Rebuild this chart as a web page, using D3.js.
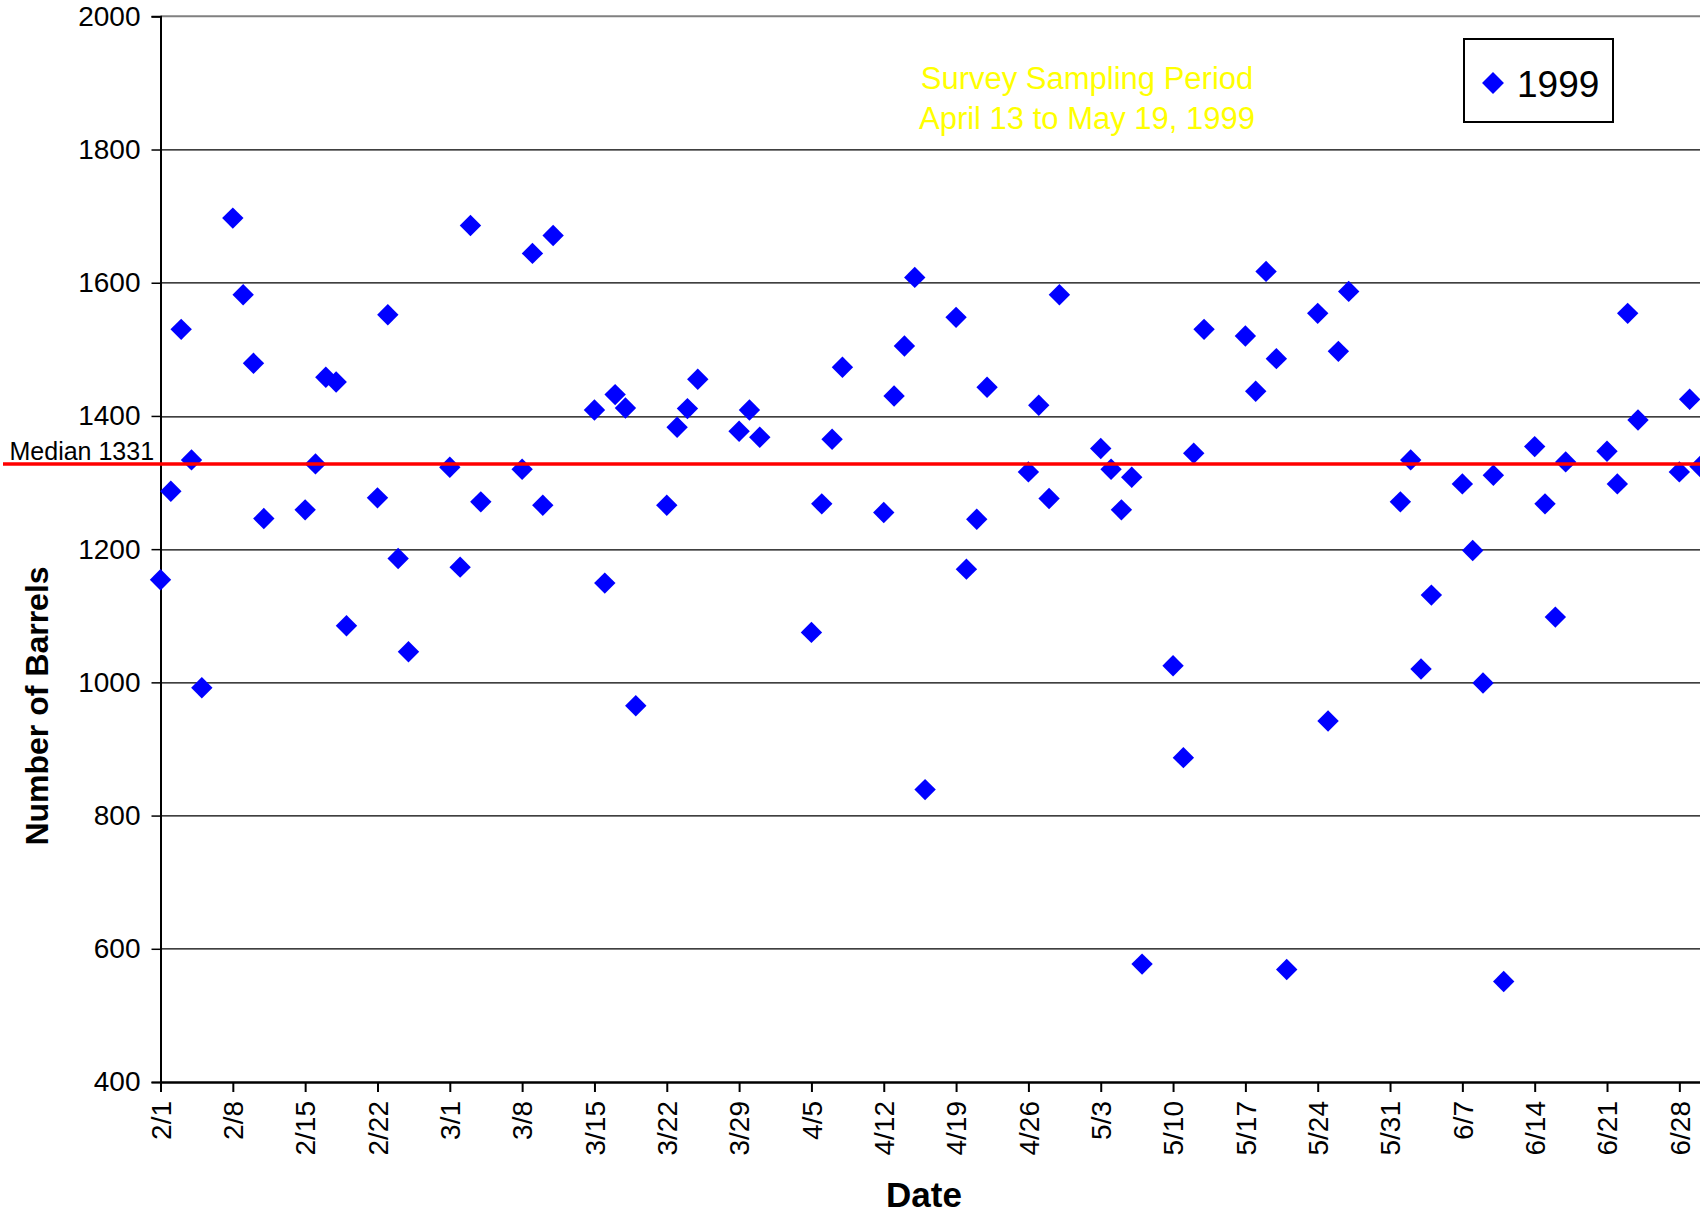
<!DOCTYPE html>
<html>
<head>
<meta charset="utf-8">
<script src="https://cdn.jsdelivr.net/npm/d3@7"></script>
<style>
  body { margin: 0; background: #fff; }
  text { font-family: "Liberation Sans", Arial, sans-serif; }
</style>
</head>
<body>
<div id="chart"></div>
<script>
const dates = [
    "2/1","2/2","2/3","2/4","2/5","2/8","2/9","2/10","2/11",
    "2/15","2/16","2/17","2/18","2/19","2/22","2/23","2/24","2/25",
    "3/1","3/2","3/3","3/4","3/8","3/9","3/10","3/11",
    "3/15","3/16","3/17","3/18","3/19","3/22","3/23","3/24","3/25",
    "3/29","3/30","3/31","4/5","4/6","4/7","4/8",
    "4/12","4/13","4/14","4/15","4/16","4/19","4/20","4/21","4/22",
    "4/26","4/27","4/28","4/29","5/3","5/4","5/5","5/6","5/7",
    "5/10","5/11","5/12","5/13","5/17","5/18","5/19","5/20","5/21",
    "5/24","5/25","5/26","5/27","6/1","6/2","6/3","6/4",
    "6/7","6/8","6/9","6/10","6/11","6/14","6/15","6/16","6/17",
    "6/21","6/22","6/23","6/24","6/28","6/29","6/30"
];
const barrels = [
    1154, 1287, 1530, 1334, 992, 1697, 1582, 1479, 1246,
    1259, 1328, 1458, 1451, 1085, 1277, 1552, 1186, 1046,
    1323, 1173, 1686, 1271, 1320, 1644, 1266, 1671,
    1409, 1149, 1432, 1412, 965, 1266, 1383, 1411, 1455,
    1377, 1409, 1368, 1075, 1268, 1365, 1473,
    1255, 1430, 1505, 1608, 839, 1548, 1170, 1245, 1443,
    1316, 1416, 1276, 1582, 1351, 1320, 1259, 1308, 577,
    1025, 887, 1344, 1530, 1520, 1437, 1617, 1486, 569,
    1554, 942, 1497, 1587, 1271, 1334, 1020, 1131,
    1298, 1198, 999, 1311, 551, 1354, 1268, 1098, 1331,
    1347, 1298, 1554, 1394, 1316, 1425, 1324
];
const xTickLabels = ["2/1","2/8","2/15","2/22","3/1","3/8","3/15","3/22","3/29","4/5","4/12",
    "4/19","4/26","5/3","5/10","5/17","5/24","5/31","6/7","6/14","6/21","6/28"];
const yTicks = [400, 600, 800, 1000, 1200, 1400, 1600, 1800, 2000];
const median = 1331;
const dateRange = ["2/1", "6/30"];
const seriesName = "1999";
const noteLines = ["Survey Sampling Period", "April 13 to May 19, 1999"];

const toDate = s => {
    const [m, d] = s.split("/").map(Number);
    return new Date(1999, m - 1, d);
};
const data = dates.map((d, i) => ({date: toDate(d), value: barrels[i]}));

const W = 1700, H = 1215;
const margin = {top: 16.3, right: 0, bottom: 133, left: 160.5};
const width = W - margin.left - margin.right;
const height = H - margin.top - margin.bottom;

const svg = d3.select("#chart")
    .append("svg")
    .attr("width", W)
    .attr("height", H);

const g = svg.append("g")
    .attr("transform", `translate(${margin.left},${margin.top})`);

const x = d3.scaleTime()
    .domain(dateRange.map(toDate))
    .range([0, width]);

const y = d3.scaleLinear()
    .domain([400, 2000])
    .range([height, 0]);

// gridlines
g.selectAll("line.grid")
    .data(yTicks.filter(v => v > 400 && v < 2000))
    .enter()
    .append("line")
    .attr("x1", 0)
    .attr("x2", width)
    .attr("y1", d => Math.round(y(d)) + 0.5)
    .attr("y2", d => Math.round(y(d)) + 0.5)
    .attr("stroke", "#000")
    .attr("stroke-width", 1.3);

// plot area top border
g.append("line")
    .attr("x1", 0)
    .attr("x2", width)
    .attr("y1", y(2000))
    .attr("y2", y(2000))
    .attr("stroke", "#808080")
    .attr("stroke-width", 2);

// y axis
const yAxis = g.append("g")
    .call(d3.axisLeft(y).tickValues(yTicks).tickFormat(d3.format("d")).tickSize(9).tickPadding(11));
yAxis.select(".domain").attr("stroke-width", 2);
yAxis.selectAll(".tick line").attr("stroke-width", 1.5);
yAxis.selectAll("text")
    .attr("font-size", 28)
    .attr("font-family", "Liberation Sans, Arial, sans-serif")
    .attr("fill", "#000");

// x axis
const xAxis = g.append("g")
    .attr("transform", `translate(0,${height})`)
    .call(d3.axisBottom(x)
        .tickValues(xTickLabels.map(toDate))
        .tickFormat(d3.timeFormat("%-m/%-d"))
        .tickSize(10)
        .tickSizeOuter(0));
xAxis.select(".domain").attr("stroke-width", 2.5);
xAxis.selectAll(".tick line").attr("stroke-width", 2);
xAxis.selectAll("text")
    .attr("font-size", 28)
    .attr("font-family", "Liberation Sans, Arial, sans-serif")
    .attr("fill", "#000")
    .attr("transform", "rotate(-90)")
    .attr("x", -19)
    .attr("y", 0)
    .attr("dy", "0.35em")
    .style("text-anchor", "end");

// median line
svg.append("line")
    .attr("x1", 3)
    .attr("x2", W)
    .attr("y1", margin.top + y(median) + 2)
    .attr("y2", margin.top + y(median) + 2)
    .attr("stroke", "#ff0000")
    .attr("stroke-width", 3.5);

svg.append("text")
    .attr("x", 9.5)
    .attr("y", margin.top + y(median) - 2)
    .attr("font-size", 25)
    .text(`Median ${median}`);

// points
const diamond = d3.symbol().type(d3.symbolSquare).size(229);
g.selectAll("path.pt")
    .data(data)
    .enter()
    .append("path")
    .attr("d", diamond)
    .attr("transform", d => `translate(${x(d.date)},${y(d.value)}) rotate(45)`)
    .attr("fill", "#0000ff");

// note
svg.selectAll("text.note")
    .data(noteLines)
    .enter()
    .append("text")
    .attr("x", 1087)
    .attr("y", (d, i) => 89 + i * 40)
    .attr("text-anchor", "middle")
    .attr("font-size", 31)
    .attr("fill", "#ffff00")
    .text(d => d);

// legend
const legend = svg.append("g").attr("transform", "translate(1464,39)");
legend.append("rect")
    .attr("width", 149)
    .attr("height", 83)
    .attr("fill", "#fff")
    .attr("stroke", "#000")
    .attr("stroke-width", 2);
legend.append("path")
    .attr("d", d3.symbol().type(d3.symbolSquare).size(240))
    .attr("transform", "translate(29,44) rotate(45)")
    .attr("fill", "#0000ff");
legend.append("text")
    .attr("x", 53)
    .attr("y", 57.5)
    .attr("font-size", 37)
    .text(seriesName);

// axis titles
svg.append("text")
    .attr("x", 924)
    .attr("y", 1207)
    .attr("text-anchor", "middle")
    .attr("font-size", 35)
    .attr("font-weight", "bold")
    .text("Date");

svg.append("text")
    .attr("transform", "translate(48,706) rotate(-90)")
    .attr("text-anchor", "middle")
    .attr("font-size", 32)
    .attr("font-weight", "bold")
    .text("Number of Barrels");
</script>
</body>
</html>
